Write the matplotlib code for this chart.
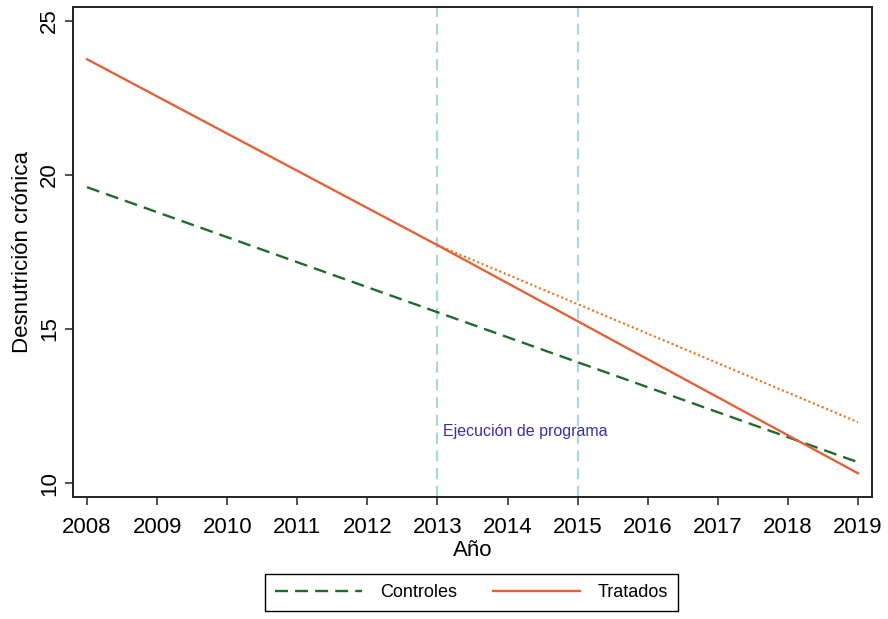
import matplotlib.pyplot as plt

# Series values (fitted trends, desnutrición crónica %)
tratados_anios = [2008, 2013, 2019]
tratados_vals = [23.75, 17.72, 10.32]
controles_anios = [2008, 2019]
controles_vals = [19.6, 10.68]
contrafactual_anios = [2013, 2019]
contrafactual_vals = [17.72, 11.98]
programa_anios = [2013, 2015]
anios_ticks = list(range(2008, 2020))
y_ticks = [10, 15, 20, 25]

plt.rcParams['font.family'] = ['Liberation Sans', 'DejaVu Sans']

fig = plt.figure(figsize=(8.88, 6.19), dpi=100)
ax = fig.add_axes([0.0822, 0.197, 0.8998, 0.792])

# Program implementation window
for a in programa_anios:
    ax.axvline(a, color='#a9d6e5', lw=1.6, linestyle=(0, (5, 3)), zorder=1)
ax.text(programa_anios[0] + 0.08, 11.66, 'Ejecución de programa',
        color='#3b2fa0', fontsize=11.5, va='center', ha='left')

ax.plot(controles_anios, controles_vals, color='#216a2c', lw=1.7,
        linestyle=(0, (5.5, 3)), label='Controles', zorder=3)
ax.plot(tratados_anios, tratados_vals, color='#e2623a', lw=1.7,
        label='Tratados', zorder=3)
ax.plot(contrafactual_anios, contrafactual_vals, color='#ec7014', lw=1.5,
        linestyle=(0, (1, 1.3)), zorder=2)

ax.set_xlim(2007.8, 2019.2)
ax.set_ylim(9.55, 25.45)
ax.set_xticks(anios_ticks)
ax.set_yticks(y_ticks)
ax.tick_params(axis='both', labelsize=16, length=6, width=1.2, color='#333333')
ax.tick_params(axis='x', pad=8)
plt.setp(ax.get_yticklabels(), rotation=90, va='center')
for s in ax.spines.values():
    s.set_linewidth(1.4)
    s.set_color('#222222')

ax.set_xlabel('Año', fontsize=16, labelpad=2)
ax.set_ylabel('Desnutrición crónica', fontsize=16, labelpad=4)

fig.legend(loc='center', bbox_to_anchor=(0.531, 0.043), ncol=2,
           fontsize=13, handlelength=4.8, columnspacing=2.0,
           fancybox=False, edgecolor='black', framealpha=1,
           borderpad=0.55, handletextpad=1.0)

fig.savefig('out.png', dpi=100)
